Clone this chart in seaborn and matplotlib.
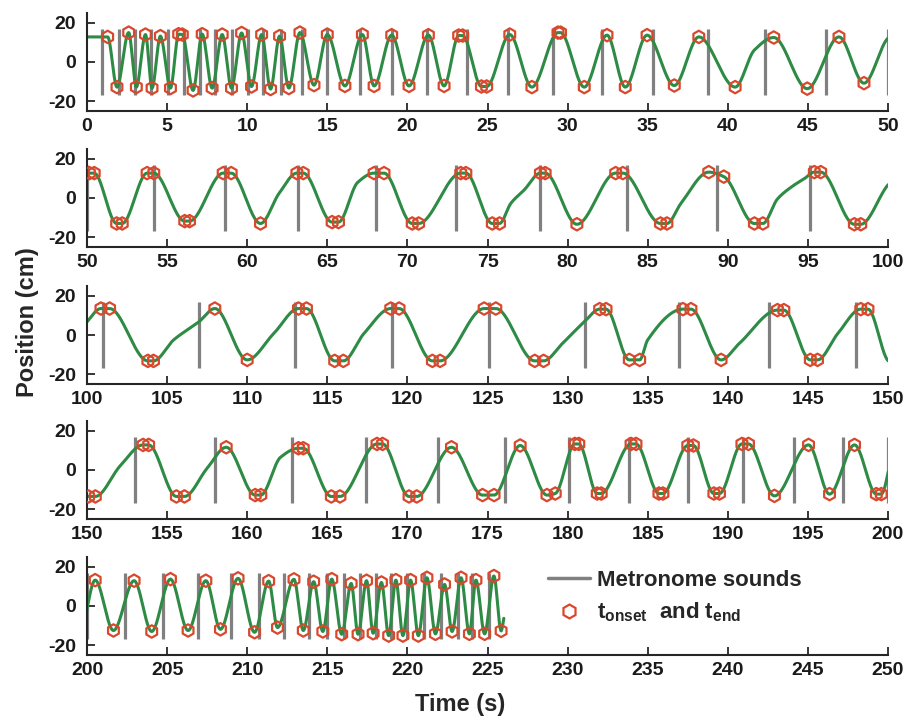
import numpy as np
import pandas as pd
import matplotlib
matplotlib.use("Agg")
import matplotlib.pyplot as plt
import seaborn as sns
from matplotlib.lines import Line2D

# ---------------- data ----------------
row_starts = [0, 50, 100, 150, 200]
y_ticks = [-20, 0, 20]

metronome_t = [
    0.94, 1.98, 2.98, 3.99, 5.04, 6.04, 7.04, 8.02, 9.06, 10.06, 11.0, 12.08,
    13.44, 15.0, 17.04, 19.06, 21.25, 23.7, 26.29, 29.08, 32.13, 35.35, 38.75,
    42.33, 46.14, 50.0,
    54.16, 58.6, 63.2, 68.04, 73.06, 78.29, 83.7, 89.33, 95.16,
    100.98, 107.0, 113.0, 119.06, 125.1, 131.1, 136.94, 142.56, 147.98,
    152.98, 158.02, 162.8, 167.44, 171.88, 176.08, 180.1, 183.85, 187.54,
    190.94, 194.16, 197.19, 200.0,
    202.39, 204.77, 206.95, 208.98, 210.75, 212.3, 213.85, 215.0, 216.04,
    217.04, 218.02, 218.96, 220.0, 221.04, 222.08, 223.13, 224.06, 225.1,
]

# t_onset / t_end markers (time s, position cm)
marker_t = [
    1.29, 1.87, 2.60, 3.08, 3.65, 4.06, 4.58, 5.21, 5.72, 5.95, 6.62, 7.19,
    7.81, 8.44, 9.02, 9.65, 10.27, 10.90, 11.46, 12.02, 12.60, 13.29, 14.17,
    15.00, 16.10, 17.19, 17.92, 19.02, 20.10, 21.31, 22.29, 23.20, 23.45,
    24.62, 24.95, 26.39, 27.77, 29.40, 29.56, 31.04, 32.46, 33.60, 34.96,
    36.66, 38.19, 40.46, 42.87, 44.96, 46.94, 48.50,
    50.15, 50.45, 51.85, 52.20, 53.75, 54.17, 56.10, 56.40, 58.50, 59.00,
    60.83, 63.10, 63.50, 65.30, 65.70, 67.92, 68.54, 70.30, 70.70, 73.33,
    73.65, 75.30, 75.75, 78.30, 78.60, 80.58, 83.00, 83.45, 85.80, 86.20,
    88.81, 89.75, 91.66, 92.19, 95.40, 95.80, 97.90, 98.30,
    100.87, 101.41, 103.80, 104.15, 107.98, 110.00, 113.20, 113.70, 115.46,
    116.00, 118.96, 119.48, 121.56, 122.04, 124.79, 125.52, 127.95, 128.50,
    132.00, 132.40, 133.85, 134.50, 137.20, 137.70, 139.58, 143.10, 143.50,
    145.15, 145.60, 148.30, 148.75,
    150.10, 150.52, 153.50, 153.85, 155.58, 156.08, 158.69, 160.50, 160.85,
    163.20, 163.50, 165.25, 165.79, 168.10, 168.45, 170.10, 170.58, 172.75,
    174.69, 175.41, 177.04, 178.71, 179.23, 180.45, 180.70, 181.85, 182.10,
    183.96, 184.27, 185.70, 185.95, 187.50, 187.85, 189.13, 189.48, 190.88,
    191.29, 192.91, 195.04, 196.35, 197.91, 199.27, 199.58,
    200.51, 201.65, 202.94, 204.04, 205.21, 206.31, 207.42, 208.33, 209.43,
    210.46, 211.34, 211.89, 212.92, 213.50, 214.15, 214.72, 215.28, 215.90,
    216.49, 216.92, 217.45, 217.86, 218.38, 218.83, 219.28, 219.72, 220.20,
    220.68, 221.22, 221.75, 222.32, 222.79, 223.35, 223.87, 224.28, 224.82,
    225.40, 225.85,
]
marker_v = [
    12.8, -12.8, 15.0, -12.8, 14.0, -13.3, 13.2, -13.3, 14.2, 14.0, -14.5, 14.2,
    -13.3, 14.0, -13.3, 14.8, -12.5, 14.0, -13.8, 13.2, -13.3, 15.0, -11.8,
    14.0, -12.2, 14.0, -12.2, 13.7, -12.2, 13.7, -12.2, 13.5, 13.5,
    -12.5, -12.5, 14.0, -12.8, 15.0, 15.0, -12.8, 13.7, -12.8, 13.7,
    -12.0, 12.8, -12.8, 12.5, -13.6, 12.8, -10.8,
    12.7, 12.7, -13.0, -13.0, 12.7, 12.7, -11.8, -11.8, 12.7, 12.7,
    -13.0, 12.7, 12.7, -12.3, -12.3, 12.7, 12.7, -13.0, -13.0, 12.7,
    12.7, -13.0, -13.0, 12.7, 12.7, -13.4, 12.7, 12.7, -13.0, -13.0,
    13.2, 10.9, -13.0, -13.0, 13.2, 13.2, -13.4, -13.4,
    13.5, 13.5, -13.2, -13.2, 13.5, -12.7, 13.5, 13.5, -13.2,
    -13.2, 13.5, 13.5, -13.2, -13.2, 13.5, 13.5, -13.2, -13.2,
    13.2, 13.2, -12.7, -12.7, 13.2, 13.2, -12.7, 12.7, 12.7,
    -12.7, -12.7, 13.2, 13.2,
    -13.5, -13.5, 12.8, 12.8, -13.5, -13.5, 11.6, -12.8, -12.8,
    11.1, 11.1, -13.5, -13.5, 13.3, 13.3, -13.5, -13.5, 11.6,
    -12.8, -12.8, 12.5, -12.8, -12.0, 13.3, 13.3, -12.0, -12.0,
    13.3, 13.3, -12.0, -12.0, 12.5, 12.5, -12.0, -12.0, 13.3,
    13.3, -13.2, 12.8, -12.3, 12.8, -12.3, -12.3,
    13.2, -12.5, 12.9, -13.0, 13.7, -12.5, 12.9, -11.9, 14.1,
    -13.4, 12.7, -11.0, 13.6, -12.5, 12.4, -13.0, 13.7, -14.4,
    11.5, -14.4, 12.9, -13.9, 12.0, -15.1, 13.2, -15.1, 13.2,
    -15.1, 14.4, -14.2, 11.0, -13.0, 14.4, -14.2, 13.2, -14.2,
    15.3, -12.7,
]

# other points (start, shoulders, end)
trace_t = [0.0, 41.66, 62.0, 66.9, 76.46, 77.29, 87.08, 93.1, 94.0, 94.8,
           100.0, 105.41, 106.98, 111.66, 117.29, 129.69, 131.04, 135.0,
           140.73, 146.87, 152.08, 157.5, 162.08, 226.03]
trace_v = [12.8, 6.1, 2.5, 8.0, -2.7, 4.1, -2.7, -0.5, 5.8, 10.0,
           6.7, -2.5, 6.7, 0.8, 0.8, -4.2, 6.7, -2.5,
           -4.2, 0.8, 2.2, 0.9, 6.5, -5.9]

# ---------------- smooth trace through the read points ----------------
def pchip(x, y, xs):
    x = np.asarray(x, float); y = np.asarray(y, float)
    h = np.diff(x); d = np.diff(y) / h
    m = np.zeros_like(y)
    for k in range(1, len(x) - 1):
        if d[k - 1] * d[k] > 0:
            w1 = 2 * h[k] + h[k - 1]; w2 = h[k] + 2 * h[k - 1]
            m[k] = (w1 + w2) / (w1 / d[k - 1] + w2 / d[k])
    m[0] = d[0]; m[-1] = d[-1]
    idx = np.clip(np.searchsorted(x, xs) - 1, 0, len(x) - 2)
    hh = h[idx]; s = (xs - x[idx]) / hh
    h00 = 2 * s**3 - 3 * s**2 + 1; h10 = s**3 - 2 * s**2 + s
    h01 = -2 * s**3 + 3 * s**2; h11 = s**3 - s**2
    return h00 * y[idx] + h10 * hh * m[idx] + h01 * y[idx + 1] + h11 * hh * m[idx + 1]

knots = sorted(zip(list(marker_t) + trace_t, list(marker_v) + trace_v))
kt = np.array([k[0] for k in knots]); kv = np.array([k[1] for k in knots])
tt = np.arange(kt[0], kt[-1], 0.01)
curve = pd.DataFrame({"t": tt, "v": pchip(kt, kv, tt)})
markers = pd.DataFrame({"t": marker_t, "v": marker_v})

# ---------------- style ----------------
sns.set_style("ticks")
plt.rcParams["font.family"] = ["Liberation Sans", "DejaVu Sans"]
plt.rcParams["font.weight"] = "bold"
plt.rcParams["axes.unicode_minus"] = False
plt.rcParams["mathtext.fontset"] = "custom"
plt.rcParams["mathtext.rm"] = "Liberation Sans:bold"
plt.rcParams["mathtext.bf"] = "Liberation Sans:bold"
plt.rcParams["mathtext.it"] = "Liberation Sans:bold"

green = "#2e8b45"
red = "#d9482c"
grey = "#808080"
spine_c = "#262626"

W, H = 924, 716
fig = plt.figure(figsize=(W / 100, H / 100), dpi=100)
bottoms_px = [111, 247, 384, 519, 655]

axes = []
for b, x0 in zip(bottoms_px, row_starts):
    ax = fig.add_axes([87 / W, 1 - b / H, 801 / W, 98 / H])
    axes.append(ax)
    ax.vlines(metronome_t, -17, 17, color=grey, lw=2.3, zorder=1)
    sns.lineplot(data=curve, x="t", y="v", ax=ax, color=green, lw=2.2,
                 estimator=None, sort=False, zorder=2, legend=False)
    sub = markers[(markers.t >= x0) & (markers.t <= x0 + 50)]
    sns.scatterplot(data=sub, x="t", y="v", ax=ax, marker="h", s=80,
                    edgecolor=red, facecolor="none", linewidth=1.6, zorder=3,
                    legend=False)
    ax.collections[-1].set_facecolor("none")
    ax.set_xlim(x0, x0 + 50)
    ax.set_ylim(-25, 25)
    ax.set_xticks(np.arange(x0, x0 + 51, 5))
    ax.set_yticks(y_ticks)
    ax.set_xlabel(""); ax.set_ylabel("")
    for s in ["top", "right"]:
        ax.spines[s].set_visible(False)
    for s in ["left", "bottom"]:
        ax.spines[s].set_color(spine_c)
        ax.spines[s].set_linewidth(1.5)
    ax.tick_params(direction="in", length=6, width=1.3, color=spine_c,
                   labelsize=14, pad=5)
    ax.tick_params(axis="y", pad=8)
    for lab in ax.get_xticklabels() + ax.get_yticklabels():
        lab.set_fontweight("bold")
        lab.set_color("#1a1a1a")

handles = [Line2D([], [], color=grey, lw=2.5),
           Line2D([], [], color=red, marker="h", ls="none", ms=10,
                  mfc="none", mew=1.6)]
labels = ["Metronome sounds", r"t$_{\mathbf{onset}}$  and t$_{\mathbf{end}}$"]
axes[-1].legend(handles, labels, loc="upper left",
                bbox_to_anchor=((548 - 87) / 801, 0.87), frameon=False,
                borderpad=0, borderaxespad=0, handlelength=1.9,
                handletextpad=0.3, labelspacing=0.45,
                prop={"size": 16, "weight": "bold"})

fig.text(28 / W, 1 - 322 / H, "Position (cm)", rotation=90, ha="center",
         va="center", fontsize=17, fontweight="bold")
fig.text(460 / W, 1 - 704 / H, "Time (s)", ha="center", va="center",
         fontsize=17, fontweight="bold")

fig.savefig("out.png", dpi=100)
